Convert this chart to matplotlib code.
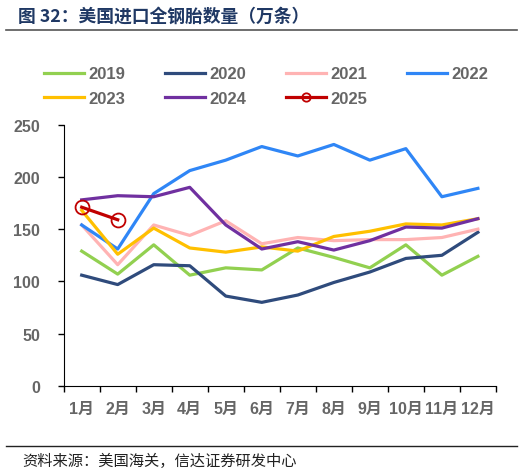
import numpy as np
import matplotlib.pyplot as plt
from matplotlib.lines import Line2D

plt.rcParams['font.family'] = ['Liberation Sans', 'Noto Sans CJK SC', 'DejaVu Sans']

months = [f'{i}月' for i in range(1, 13)]

y2019 = [129, 107, 135, 106, 113, 111, 132, 123, 113, 135, 106, 124]
y2020 = [106, 97, 116, 115, 86, 80, 87, 99, 109, 122, 125, 147]
y2021 = [154, 116, 154, 144, 158, 136, 142, 139, 140, 140, 142, 150]
y2022 = [154, 131, 184, 206, 216, 229, 220, 231, 216, 227, 181, 189]
y2023 = [168, 126, 151, 132, 128, 133, 129, 143, 148, 155, 154, 160]
y2024 = [178, 182, 181, 190, 154, 131, 138, 130, 139, 152, 151, 160]
y2025 = [171, 159]

series = [
    ('2019', y2019, '#92D050'),
    ('2020', y2020, '#2F4B7C'),
    ('2021', y2021, '#FFB3B3'),
    ('2022', y2022, '#2F86F6'),
    ('2023', y2023, '#FFC000'),
    ('2024', y2024, '#7030A0'),
]

fig = plt.figure(figsize=(5.22, 4.77), dpi=100)
ax = fig.add_axes([0.122, 0.1887, 0.828, 0.548])

x = np.arange(len(months))
handles = {}
for name, vals, c in series:
    h, = ax.plot(x[:len(vals)], vals, color=c, lw=2.3, label=name)
    handles[name] = h
h, = ax.plot(x[:len(y2025)], y2025, color='#C00000', lw=2.3, marker='o',
             ms=10, mfc='none', mec='#C00000', mew=1.3, label='2025')
handles['2025'] = h

ax.set_xlim(-0.5, 11.5)
ax.set_ylim(0, 250)
ax.set_yticks([0, 50, 100, 150, 200, 250])
ax.set_xticks(x)
ax.set_xticklabels(months)
ax.set_xticks(np.arange(-0.5, 12, 1), minor=True)
ax.tick_params(axis='x', which='major', length=0, pad=11)
ax.tick_params(axis='x', which='minor', length=4, width=1, direction='out')
ax.tick_params(axis='y', length=4, width=1, pad=13)
for lab in ax.get_xticklabels() + ax.get_yticklabels():
    lab.set_fontweight('bold')
    lab.set_color('#666666')
    lab.set_fontsize(11.5)
for s in ['top', 'right']:
    ax.spines[s].set_visible(False)

# legend: row1 2019-2022, row2 2023-2025 (column-major order)
order = ['2019', '2023', '2020', '2024', '2021', '2025', '2022']
leg = fig.legend([handles[k] for k in order], order, ncol=4, loc='upper left',
                 bbox_to_anchor=(0.055, 0.89), frameon=False,
                 prop={'weight': 'bold', 'size': 12}, handlelength=2.4,
                 handletextpad=0.3, columnspacing=2.35, labelspacing=0.55,
                 markerscale=0.6)
for t in leg.get_texts():
    t.set_color('#666666')

fig.text(0.035, 0.965, '图 32：美国进口全钢胎数量（万条）', fontsize=12.8,
         fontweight='bold', color='#1F3864', va='center', ha='left',
         family=['Noto Sans CJK SC', 'DejaVu Sans'])
fig.add_artist(Line2D([0.012, 0.99], [0.935, 0.935], color='#555555', lw=1.2))
fig.add_artist(Line2D([0.012, 0.99], [0.063, 0.063], color='#222222', lw=1.0))
fig.text(0.042, 0.032, '资料来源：美国海关，信达证券研发中心', fontsize=11,
         color='#222222', va='center', ha='left', style='italic',
         family=['Noto Sans CJK SC', 'DejaVu Sans'])

fig.savefig('out.png', dpi=100)
